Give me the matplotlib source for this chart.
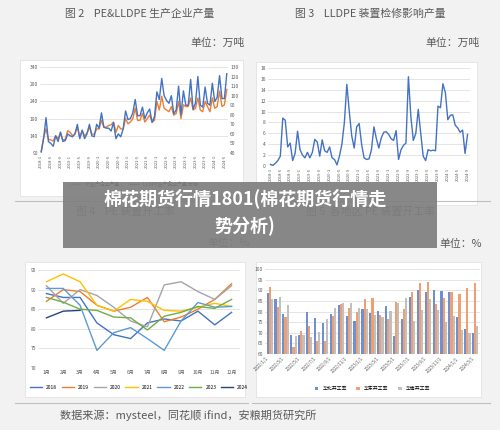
import matplotlib
matplotlib.use("Agg")
import matplotlib.pyplot as plt
from matplotlib.patches import Rectangle
import numpy as np

plt.rcParams['font.family'] = ['Noto Sans CJK SC', 'DejaVu Sans']

W, H = 500, 430

# ---- data ----
pe_prod = [95,135,160,130,128,125,140,132,148,128,130,155,
           150,140,145,165,135,155,140,148,165,145,145,160,
           160,185,165,165,170,172,180,150,170,160,160,190,
           175,180,190,220,185,185,205,180,190,200,180,185,
           240,215,255,220,215,210,225,200,205,240,190,230,
           225,225,250,215,220,250,215,210,240,225,210,250,
           220,225,270,225,230,275]
lldpe_prod = [41,55,77,52,50,47,58,52,62,52,53,60,
              58,57,60,70,55,64,55,60,70,58,57,70,
              66,82,67,66,66,63,72,55,60,57,65,84,
              75,76,82,96,79,79,88,76,82,86,72,78,
              104,96,118,100,95,92,100,81,85,110,80,105,
              90,90,117,86,92,120,90,88,109,92,90,113,
              94,98,121,97,97,123]
maint = [0.3,0.1,0.5,1.0,1.8,8.8,8.4,3.5,4.2,1.0,2.3,6.4,
         3.0,2.0,1.5,2.5,1.5,2.5,4.9,4.4,1.8,4.8,2.8,2.5,
         3.5,1.5,1.2,0.2,1.8,4.0,8.0,15.0,10.0,5.5,3.3,7.2,
         7.8,4.0,1.5,1.2,1.3,3.0,7.2,5.0,3.3,5.2,6.2,6.3,
         5.8,5.0,4.7,6.5,1.2,3.0,3.8,4.2,16.4,9.0,4.7,6.0,
         10.4,6.0,1.8,1.0,3.0,2.8,2.9,2.8,11.0,10.7,15.1,13.5,
         8.5,9.3,9.4,7.5,7.0,6.2,6.6,2.3,5.8]
months = ['1月','2月','3月','4月','5月','6月','7月','8月','9月','10月','11月','12月']
rate_years = ['2018','2019','2020','2021','2022','2023','2024']
rate = {
    '2018': [89,88,88,81.5,78.5,77.5,81.5,82.5,82,84.5,81,84.2],
    '2019': [87,90,89.5,86,84.5,85.5,88,81.8,83,85,87.5,91.5],
    '2020': [91,86.5,90,88.5,85.5,82,80.5,91.2,92,89.5,87.5,91],
    '2021': [92,94,92,86,84.5,87.5,87,84.7,84.5,85.5,86.5,85.7],
    '2022': [90.3,90.3,86,74.5,79,80.3,77.5,74.5,82,86.7,85.5,85.7],
    '2023': [88,86.8,85,84.7,83,82.8,79.7,83.2,84.2,85.7,85.2,87.5],
    '2024': [82.8,84.5,84.7],
}
rate_colors = ['#4472c4','#ed7d31','#a5a5a5','#ffc000','#5b9bd5','#70ad47','#264478']
north = [88.5,86,78.8,69,69,80,76.8,74.5,78.8,83.2,77.9,75.6,81,79.5,80.4,82.5,68.3,76.7,87,90,89.2,90,89.5,89,77.5,71.7,70]
east = [91.5,82.3,77.3,63.5,70.7,73.4,66.2,66,77.7,83.3,81.8,80,85.7,86.5,78.5,76.6,84.3,81.4,89.3,93.6,93.7,83.7,86.5,89.3,88.3,91.1,93.5]
south = [86,87,83,68.5,69,68,70.2,76.5,81.8,84,84,81.5,81,78.5,77.2,80.2,84,86.5,75.5,80.7,86,80.5,75,77.9,71.2,70,73.4]

def month_labels(start_year, n, fmt):
    out = []
    for i in range(n):
        y = start_year + i // 12
        m = i % 12 + 1
        out.append(fmt.format(y=y, m=m))
    return out

fig = plt.figure(figsize=(5, 4.3), dpi=100)
fig.patch.set_facecolor('#f2f2f2')

def box(x0, y0, x1, y1):
    return [x0 / W, 1 - y1 / H, (x1 - x0) / W, (y1 - y0) / H]

def panel(x0, y0, x1, y1):
    fig.patches.append(Rectangle((x0 / W, 1 - y1 / H), (x1 - x0) / W, (y1 - y0) / H,
                                 transform=fig.transFigure, facecolor='white',
                                 edgecolor='#dddddd', lw=0.5, zorder=-5))

def style(ax, fs=3.5):
    ax.set_facecolor('white')
    for s in ax.spines.values():
        s.set_visible(False)
    ax.grid(axis='y', color='#d9d9d9', lw=0.5)
    ax.set_axisbelow(True)
    ax.tick_params(length=0, labelsize=fs, colors='#595959', pad=1.5)

tc = '#595959'
fs_t = 7.8
fig.text(140/W, 1-14/H, '图 2    PE&LLDPE 生产企业产量', ha='center', va='center', fontsize=fs_t, color=tc)
fig.text(245/W, 1-43/H, '单位：万吨', ha='right', va='center', fontsize=fs_t, color=tc)
fig.text(370/W, 1-14/H, '图 3    LLDPE 装置检修影响产量', ha='center', va='center', fontsize=fs_t, color=tc)
fig.text(480/W, 1-43/H, '单位：万吨', ha='right', va='center', fontsize=fs_t, color=tc)
fig.text(125/W, 1-212/H, '图 4    PE 装置开工率', ha='center', va='center', fontsize=fs_t, color=tc)
fig.text(250/W, 1-243/H, '单位：%', ha='right', va='center', fontsize=fs_t, color=tc)
fig.text(370/W, 1-212/H, '图 5  各地区 PE 装置开工率', ha='center', va='center', fontsize=fs_t, color=tc)
fig.text(482/W, 1-244/H, '单位：%', ha='right', va='center', fontsize=fs_t, color=tc)
fig.text(60/W, 1-415/H, '数据来源：mysteel，同花顺 ifind，安粮期货研究所', ha='left', va='center', fontsize=8, color=tc)
for (xa, xb, yy) in [(15, 248, 201), (252, 490, 201), (15, 248, 403), (252, 490, 403)]:
    fig.add_artist(plt.Line2D([xa/W, xb/W], [1-yy/H, 1-yy/H], color='#bfbfbf', lw=0.8))

# ---- panel 1 ----
panel(20, 60, 243, 196)
ax1 = fig.add_axes(box(40, 67, 228, 153))
style(ax1)
x1 = np.arange(len(pe_prod))
ax1.plot(x1, pe_prod, color='#ed7d31', lw=1.0)
ax1.set_ylim(90, 340); ax1.set_yticks(range(90, 341, 50))
ax1.set_xlim(-0.5, len(pe_prod) - 0.5)
lab1 = month_labels(2018, len(pe_prod), '{y}-{m}')
ax1.set_xticks(x1[::4]); ax1.set_xticklabels(lab1[::4], rotation=90, fontsize=3)
ax1b = ax1.twinx()
for s in ax1b.spines.values():
    s.set_visible(False)
ax1b.plot(np.arange(len(lldpe_prod)), lldpe_prod, color='#4472c4', lw=1.0)
ax1b.set_ylim(40, 130); ax1b.set_yticks(range(40, 131, 10))
ax1b.tick_params(length=0, labelsize=3.5, colors='#595959', pad=1.5)
ax1.legend([ax1.lines[0], ax1b.lines[0]], ['PE生产企业产量', 'LLDPE生产企业产量 右轴'],
           loc='upper center', bbox_to_anchor=(0.5, -0.28), ncol=2, fontsize=3.5, frameon=False)

# ---- panel 2 ----
panel(256, 62, 477, 205)
ax2 = fig.add_axes(box(268, 68, 470, 166))
style(ax2)
x2 = np.arange(len(maint))
ax2.plot(x2, maint, color='#4472c4', lw=1.0)
ax2.set_ylim(0, 18); ax2.set_yticks(range(0, 19, 2))
ax2.set_xlim(-1, len(maint))
lab2 = month_labels(2018, len(maint), '{y}-{m}')
ax2.set_xticks(x2[::4]); ax2.set_xticklabels(lab2[::4], rotation=90, fontsize=3)

# ---- panel 3 ----
panel(25, 262, 245, 397)
ax3 = fig.add_axes(box(38, 270, 240, 368))
style(ax3)
for yr, c in zip(rate_years, rate_colors):
    v = rate[yr]
    ax3.plot(range(len(v)), v, color=c, lw=1.0, label=yr)
ax3.set_ylim(70, 95); ax3.set_yticks(range(70, 96, 5))
ax3.set_xlim(-0.5, 11.5)
ax3.set_xticks(range(12)); ax3.set_xticklabels(months, fontsize=3.5)
ax3.legend(loc='upper center', bbox_to_anchor=(0.5, -0.13), ncol=7, fontsize=3.5,
           frameon=False, handlelength=2.5, columnspacing=1.0)

# ---- panel 4 ----
panel(256, 262, 481, 397)
ax4 = fig.add_axes(box(265, 269, 480, 354))
style(ax4)
xb = np.arange(len(north))
bw = 0.27
ax4.bar(xb - bw, [v - 60 for v in north], bw, bottom=60, color='#6f8fd0', label='华北开工率')
ax4.bar(xb, [v - 60 for v in east], bw, bottom=60, color='#f0a070', label='华东开工率')
ax4.bar(xb + bw, [v - 60 for v in south], bw, bottom=60, color='#c0c0c0', label='华南开工率')
ax4.set_ylim(60, 100); ax4.set_yticks(range(60, 101, 5))
ax4.set_xlim(-0.6, len(north) - 0.4)
lab4 = month_labels(2022, len(north), '{y}/{m}/1')
ax4.set_xticks(xb[::2]); ax4.set_xticklabels(lab4[::2], rotation=45, ha='right', fontsize=3.2)
ax4.legend(loc='upper center', bbox_to_anchor=(0.5, -0.33), ncol=3, fontsize=3.5,
           frameon=False, handlelength=0.8)

# ---- overlay ----
fig.patches.append(Rectangle((63/W, 1-248/H), (437-63)/W, (248-182)/H, transform=fig.transFigure,
                             facecolor='#7f7f7f', edgecolor='none', alpha=0.93, zorder=10))
fig.text(245/W, 1-198/H, '棉花期货行情1801(棉花期货行情走', ha='center', va='center',
         fontsize=13, color='white', fontweight='bold', zorder=11)
fig.text(245/W, 1-226/H, '势分析)', ha='center', va='center',
         fontsize=13, color='white', fontweight='bold', zorder=11)

fig.savefig('out.png', dpi=100, facecolor=fig.get_facecolor())
